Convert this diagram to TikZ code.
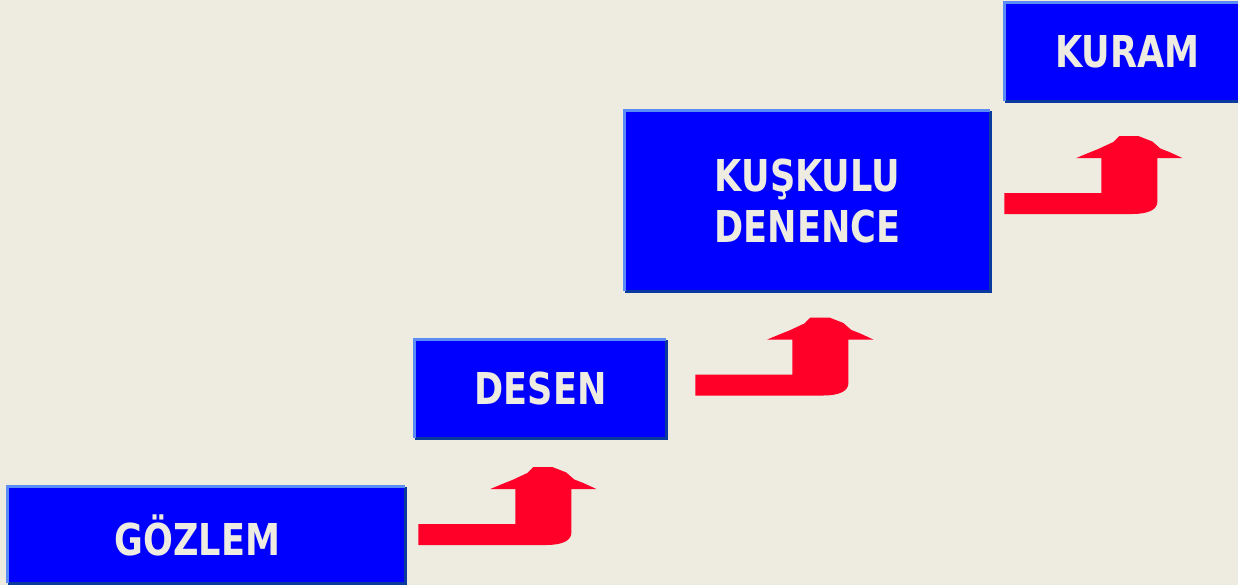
\documentclass[tikz,border=0pt]{standalone}
\usepackage{fontspec}
\setmainfont{DejaVu Sans}[FakeStretch=0.8]
\usetikzlibrary{positioning}

\definecolor{paper}{HTML}{EEEBE0}
\definecolor{boxblue}{HTML}{0000FF}
\definecolor{edgelight}{HTML}{5B8CF5}
\definecolor{edgedark}{HTML}{0B3A9E}
\definecolor{arrowred}{HTML}{FF0029}

\tikzset{
  stepbox/.style={fill=boxblue, text=paper, inner sep=0pt, align=center,
    font=\bfseries\fontsize{25}{28.5}\selectfont},
  lightedge/.style={draw=edgelight, line width=0.06cm},
  darkedge/.style={draw=edgedark, line width=0.05cm},
  pics/steparrow/.style={code={
    \fill[arrowred] (0,-10.5) -- (0,10.5) -- (128,10.5)
      .. controls (145,10.5) and (153,5.5) .. (153,-1.5)
      -- (153,-45.5) -- (178,-45.5)
      -- (165,-51.5) -- (156,-55) -- (148,-62) -- (134,-67.5)
      -- (115,-67.5)
      -- (109,-61.5) -- (94,-54.5) -- (84,-50.5) -- (72,-45.5)
      -- (97,-45.5) -- (97,-10.5) -- cycle;
  }}
}

\begin{document}
\begin{tikzpicture}[x=0.02cm,y=-0.02cm]
  \fill[paper] (0,0) rectangle (1238,585);
  \useasboundingbox (0,0) rectangle (1238,585);

  % the four steps
  \node[stepbox, minimum width=7.94cm, minimum height=1.92cm] (gozlem) at (206.5,535) {GÖZLEM\kern0.36cm};
  \node[stepbox, minimum width=5.02cm, minimum height=1.96cm] (desen) at (540.5,389) {DESEN};
  \node[stepbox, minimum width=7.3cm, minimum height=3.6cm] (kuskulu) at (807.5,201) {KUŞKULU\\DENENCE};
  \node[stepbox, minimum width=4.9cm, minimum height=1.96cm] (kuram) at (1127.5,52) {KURAM};

  \foreach \n in {gozlem,desen,kuskulu,kuram} {
    \draw[darkedge] (\n.south west) -| (\n.north east);
    \draw[lightedge] (\n.south west) |- (\n.north east);
  }

  % arrows between the steps
  \path (gozlem.east) ++(13,-0.5) pic {steparrow};
  \path (desen.east) ++(29,-4) pic {steparrow};
  \path (kuskulu.east) ++(14,2.5) pic {steparrow};
\end{tikzpicture}
\end{document}
